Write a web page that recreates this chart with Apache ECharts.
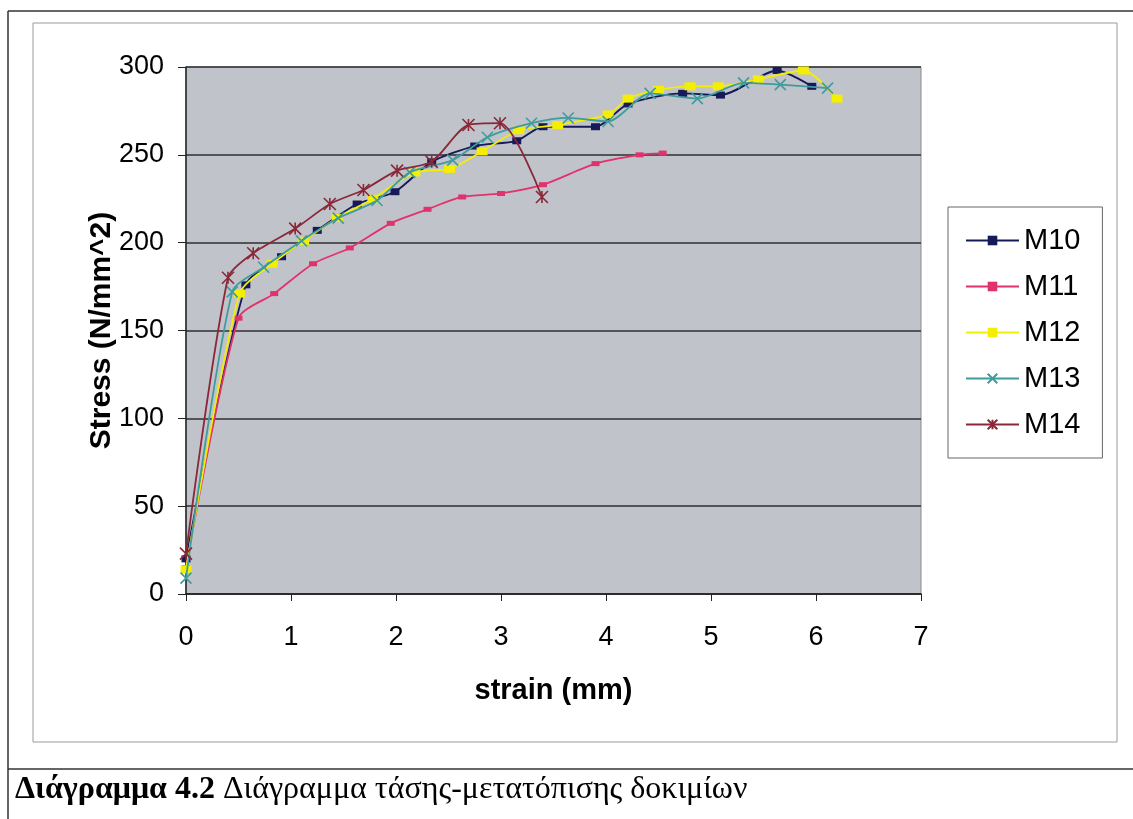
<!DOCTYPE html>
<html>
<head>
<meta charset="utf-8">
<script src="https://cdn.jsdelivr.net/npm/echarts@6/dist/echarts.min.js"></script>
<style>
  html, body { margin: 0; padding: 0; background: #ffffff; }
  #chart { width: 1133px; height: 819px; }
</style>
</head>
<body>
<div id="chart"></div>
<script>
// Stress–strain test curves, [strain (mm), stress (N/mm^2)]
const seriesNames = ['M10', 'M11', 'M12', 'M13', 'M14'];
const m10 = [[0,20],[0.57,176],[0.91,192],[1.25,207],[1.63,222],[1.99,229],[2.34,246],[2.75,255],[3.15,258],[3.40,266],[3.90,266],[4.21,279],[4.73,285],[5.09,284],[5.63,298],[5.96,289]];
const m11 = [[0,15],[0.50,157],[0.84,171],[1.21,188],[1.56,197],[1.95,211],[2.30,219],[2.63,226],[3.00,228],[3.40,233],[3.90,245],[4.32,250],[4.54,251]];
const m12 = [[0,14],[0.51,171],[0.82,188],[1.12,201],[1.44,214],[1.78,225],[2.18,240],[2.51,242],[2.82,252],[3.17,264],[3.54,267],[4.02,273],[4.21,282],[4.50,287],[4.80,289],[5.07,289],[5.45,293],[5.88,298],[6.20,282]];
const m13 = [[0,9],[0.44,172],[0.74,186],[1.10,201],[1.45,214],[1.82,224],[2.13,240],[2.54,247],[2.87,260],[3.29,268],[3.64,271],[4.02,269],[4.42,285],[4.87,282],[5.31,291],[5.66,290],[6.11,288]];
const m14 = [[0,23],[0.40,180],[0.64,194],[1.04,208],[1.37,222],[1.69,230],[2.01,241],[2.34,246],[2.69,267],[2.99,268],[3.39,226]];

const xTitle = 'strain (mm)';
const yTitle = 'Stress (N/mm^2)';
const captionBold = 'Διάγραμμα 4.2';
const captionText = ' Διάγραμμα τάσης-μετατόπισης δοκιμίων';

const colors = ['#161a58', '#e0336c', '#f4ef00', '#3f9c9c', '#8a2838'];
const symbols = [
  'rect',
  'rect',
  'rect',
  'path://M0,0L10,10M10,0L0,10',
  'path://M0,0L10,10M10,0L0,10M5,0L5,10'
];
const symbolSizes = [[9, 7], [8, 5], [11, 8], 11, 12];
const dataSets = [m10, m11, m12, m13, m14];

const font = '"Liberation Sans", Arial, sans-serif';
const serif = '"Liberation Serif", "Times New Roman", serif';

const chart = echarts.init(document.getElementById('chart'), null, { renderer: 'canvas' });

const series = seriesNames.map((name, i) => ({
  name: name,
  type: 'line',
  data: dataSets[i],
  smooth: 0.25,
  symbol: symbols[i],
  symbolSize: symbolSizes[i],
  showAllSymbol: true,
  z: 2 + i,
  lineStyle: { color: colors[i], width: 1.8 },
  itemStyle: { color: colors[i], borderColor: colors[i], borderWidth: i >= 3 ? 1.6 : 0 },
  emphasis: { disabled: true }
}));

chart.setOption({
  animation: false,
  backgroundColor: '#ffffff',
  textStyle: { fontFamily: font, color: '#000' },
  grid: {
    left: 186, top: 67, width: 735, height: 527,
    show: true, backgroundColor: '#c1c3cb', borderColor: '#8a8a90', borderWidth: 1
  },
  xAxis: {
    type: 'value', min: 0, max: 7, interval: 1,
    name: xTitle, nameLocation: 'middle', nameGap: 82, nameMoveOverlap: false,
    nameTextStyle: { fontFamily: font, fontSize: 29, fontWeight: 'bold', color: '#000' },
    axisLine: { show: true, onZero: false, lineStyle: { color: '#222', width: 1.5 } },
    axisTick: { show: true, inside: false, length: 7, lineStyle: { color: '#222' } },
    axisLabel: { fontFamily: font, fontSize: 27, color: '#000', margin: 30 },
    splitLine: { show: false }
  },
  yAxis: {
    type: 'value', min: 0, max: 300, interval: 50,
    name: yTitle, nameLocation: 'middle', nameGap: 69, nameRotate: 90, nameMoveOverlap: false,
    nameTextStyle: { fontFamily: font, fontSize: 30, fontWeight: 'bold', color: '#000' },
    axisLine: { show: true, onZero: false, lineStyle: { color: '#222', width: 1.5 } },
    axisTick: { show: true, inside: false, length: 8, lineStyle: { color: '#222' } },
    axisLabel: { fontFamily: font, fontSize: 27, color: '#000', margin: 22 },
    splitLine: { show: true, lineStyle: { color: '#2e2e32', width: 1.6 } }
  },
  legend: {
    data: seriesNames,
    orient: 'vertical',
    left: 948, top: 207,
    padding: [19, 22, 19, 17],
    itemGap: 17,
    itemWidth: 53, itemHeight: 12,
    backgroundColor: '#ffffff',
    borderColor: '#666',
    borderWidth: 1,
    textStyle: { fontFamily: font, fontSize: 29, color: '#000' }
  },
  graphic: [
    // outer page frame
    { type: 'line', shape: { x1: 8, y1: 11, x2: 1133, y2: 11 }, style: { stroke: '#333', lineWidth: 1.5 }, silent: true },
    { type: 'line', shape: { x1: 8, y1: 11, x2: 8, y2: 819 }, style: { stroke: '#333', lineWidth: 1.5 }, silent: true },
    { type: 'line', shape: { x1: 8, y1: 769, x2: 1133, y2: 769 }, style: { stroke: '#333', lineWidth: 1.5 }, silent: true },
    // chart area border
    { type: 'rect', shape: { x: 33, y: 23, width: 1084, height: 719 }, style: { fill: 'none', stroke: '#9a9aa2', lineWidth: 1 }, silent: true, z: -1 },
    // caption
    {
      type: 'text', left: 15, top: 774, silent: true,
      style: {
        text: '{b|' + captionBold + '}' + captionText,
        fontFamily: serif,
        fontSize: 32, fill: '#000',
        rich: { b: { fontFamily: serif, fontSize: 32, fontWeight: 'bold', fill: '#000' } }
      }
    }
  ],
  series: series
});
</script>
</body>
</html>
